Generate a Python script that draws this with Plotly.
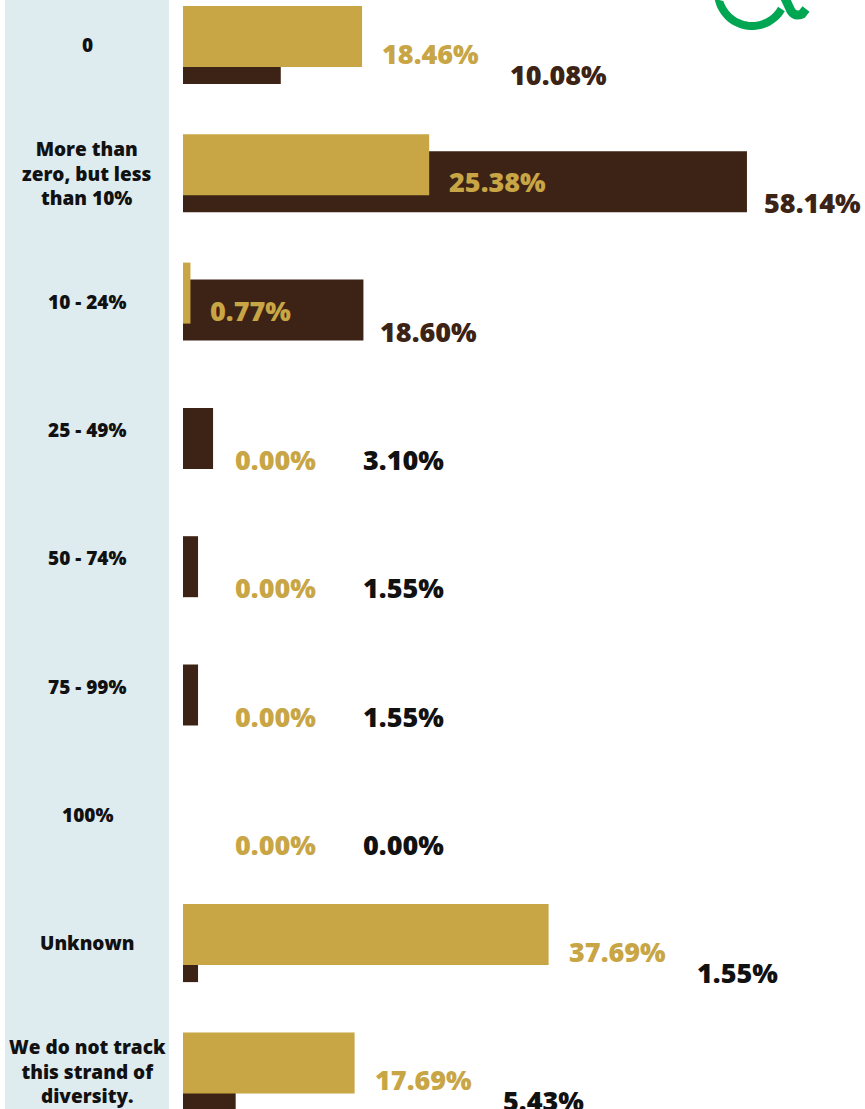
import numpy as np
import plotly.graph_objects as go

# ---------------- data ----------------
categories = [
    "0",
    "More than<br>zero, but less<br>than 10%",
    "10 - 24%",
    "25 - 49%",
    "50 - 74%",
    "75 - 99%",
    "100%",
    "Unknown",
    "We do not track<br>this strand of<br>diversity.",
]
gold_values = [18.46, 25.38, 0.77, 0.00, 0.00, 0.00, 0.00, 37.69, 17.69]
brown_values = [10.08, 58.14, 18.60, 3.10, 1.55, 1.55, 0.00, 1.55, 5.43]

# ---------------- style ----------------
W, H = 865, 1109
GOLD = "#c8a545"
BROWN = "#3d2315"
PANEL = "#deebef"
GREEN = "#00a651"
FONT = "Open Sans"
brown_label_colors = [BROWN, BROWN, BROWN, "#111111", "#111111", "#111111",
                      "#111111", "#111111", "#111111"]

X0_PX = 183          # left edge of bars
PX_PER_UNIT = 9.7    # horizontal scale
ROW_PX = 128.3       # row spacing
FIRST_ROW_PX = 45    # centre of first row
BAR_PX = 61

x_max = (W - X0_PX) / PX_PER_UNIT
y_top = -FIRST_ROW_PX / ROW_PX
y_bot = (H - FIRST_ROW_PX) / ROW_PX
bar_w = BAR_PX / ROW_PX
gold_off = -39 / ROW_PX
brown_off = -22 / ROW_PX

fig = go.Figure()
fig.add_trace(go.Bar(
    y=categories, x=brown_values, orientation="h",
    marker=dict(color=BROWN, line=dict(width=0)),
    width=bar_w, offset=brown_off, hoverinfo="skip", showlegend=False,
))
fig.add_trace(go.Bar(
    y=categories, x=gold_values, orientation="h",
    marker=dict(color=GOLD, line=dict(width=0)),
    width=bar_w, offset=gold_off, hoverinfo="skip", showlegend=False,
))

annotations = []
for cat, g, b, bc in zip(categories, gold_values, brown_values, brown_label_colors):
    # category label in the left panel
    annotations.append(dict(
        x=87 / W, xref="paper", y=cat, yref="y", text=cat,
        showarrow=False, xanchor="center", yanchor="middle", align="center",
        font=dict(family=FONT, size=19, color="#111111", weight=800),
    ))
    # gold value label
    g_shift = 18 if g > 0 else 50
    g_yshift = -8.5 if g > 0 else -29.5
    annotations.append(dict(
        x=g, xref="x", y=cat, yref="y", text=f"{g:.2f}%",
        showarrow=False, xanchor="left", yanchor="middle",
        xshift=g_shift, yshift=g_yshift,
        font=dict(family=FONT, size=27, color=GOLD, weight=800),
    ))
    # brown value label: after its own bar or after the gold label
    after_bar = b * PX_PER_UNIT + 15
    after_gold = g * PX_PER_UNIT + g_shift + 128
    if after_bar >= after_gold:
        bx, bshift = b, 15
    else:
        bx, bshift = g, g_shift + 128
    annotations.append(dict(
        x=bx, xref="x", y=cat, yref="y", text=f"{b:.2f}%",
        showarrow=False, xanchor="left", yanchor="middle",
        xshift=bshift, yshift=-29.5,
        font=dict(family=FONT, size=27, color=bc, weight=800),
    ))


def px(x, y):
    return f"{x / W:.5f},{1 - y / H:.5f}"


# decorative logo fragment (top right)
theta = np.radians(np.linspace(205, 30, 40))
cx, cy, r = 752, -8, 34
pts = [px(cx + r * np.cos(t), cy + r * np.sin(t)) for t in theta]
arc_path = "M " + " L ".join(pts)
hook_path = f"M {px(784, -4)} L {px(791, 11)} Q {px(795, 17)} {px(802, 14)} L {px(806, 9)}"

shapes = [
    dict(type="rect", xref="paper", yref="paper", x0=5 / W, x1=169 / W,
         y0=0, y1=1, fillcolor=PANEL, line=dict(width=0), layer="below"),
    dict(type="path", xref="paper", yref="paper", path=arc_path,
         line=dict(color=GREEN, width=8), fillcolor="rgba(0,0,0,0)"),
    dict(type="path", xref="paper", yref="paper", path=hook_path,
         line=dict(color=GREEN, width=9), fillcolor="rgba(0,0,0,0)"),
]

fig.update_layout(
    width=W, height=H,
    margin=dict(l=0, r=0, t=0, b=0),
    paper_bgcolor="white", plot_bgcolor="rgba(0,0,0,0)",
    barmode="overlay",
    xaxis=dict(domain=[X0_PX / W, 1], range=[0, x_max], showgrid=False,
               zeroline=False, showticklabels=False, fixedrange=True),
    yaxis=dict(type="category", categoryorder="array", categoryarray=categories,
               range=[y_bot, y_top], showgrid=False, zeroline=False,
               showticklabels=False, fixedrange=True),
    annotations=annotations,
    shapes=shapes,
)

fig.write_html("out.html", config={"displayModeBar": False},
               post_script="document.body.style.margin='0';")
